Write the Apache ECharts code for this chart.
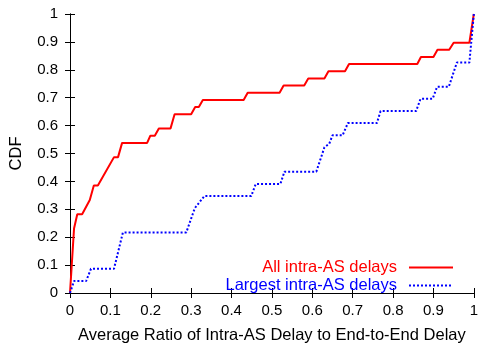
<!DOCTYPE html>
<html>
<head>
<meta charset="utf-8">
<script src="https://cdn.jsdelivr.net/npm/echarts@6/dist/echarts.min.js"></script>
<style>
  html, body { margin: 0; padding: 0; background: #fff; }
  #main { width: 481px; height: 349px; }
</style>
</head>
<body>
<div id="main"></div>
<script>
// CDF curves, [ratio, cdf] points
var allDelays = [
  [0, 0], [0.010, 0.231], [0.018, 0.282], [0.030, 0.282], [0.049, 0.333],
  [0.059, 0.385], [0.069, 0.385], [0.109, 0.487], [0.119, 0.487], [0.129, 0.538],
  [0.191, 0.538], [0.199, 0.564], [0.210, 0.564], [0.220, 0.590], [0.249, 0.590],
  [0.259, 0.641], [0.300, 0.641], [0.310, 0.667], [0.319, 0.667], [0.329, 0.692],
  [0.430, 0.692], [0.440, 0.718], [0.519, 0.718], [0.529, 0.744], [0.580, 0.744],
  [0.590, 0.769], [0.630, 0.769], [0.640, 0.795], [0.681, 0.795], [0.691, 0.821],
  [0.860, 0.821], [0.869, 0.846], [0.900, 0.846], [0.910, 0.872], [0.939, 0.872],
  [0.950, 0.897], [0.989, 0.897], [1.0, 1.0]
]
var largestDelays = [
  [0, 0], [0.010, 0.043], [0.040, 0.043], [0.052, 0.087], [0.109, 0.087],
  [0.131, 0.217], [0.288, 0.217], [0.309, 0.304], [0.333, 0.348], [0.449, 0.348],
  [0.460, 0.391], [0.521, 0.391], [0.531, 0.435], [0.610, 0.435], [0.630, 0.522],
  [0.642, 0.535], [0.650, 0.565], [0.675, 0.565], [0.688, 0.609], [0.760, 0.609],
  [0.769, 0.652], [0.857, 0.652], [0.868, 0.696], [0.898, 0.696], [0.909, 0.739],
  [0.938, 0.739], [0.958, 0.826], [0.989, 0.826], [1.0, 1.0]
]
var seriesNames = ['All intra-AS delays', 'Largest intra-AS delays']
var seriesColors = ['#ff0000', '#0000ff']

var font = 'Liberation Sans, Arial, Helvetica, sans-serif'
var chart = echarts.init(document.getElementById('main'))

function tickLabel(v) {
  return String(Number(v.toFixed(1)))
}

var axisLine = { show: true, lineStyle: { color: '#000', width: 1 } }
var axisTick = { show: true, inside: true, length: 5, lineStyle: { color: '#000' } }

var option = {
  animation: false,
  backgroundColor: '#fff',
  textStyle: { fontFamily: font },
  grid: { left: 70, right: 6, top: 14, bottom: 54 },
  legend: {
    orient: 'vertical',
    right: 22,
    top: 254,
    align: 'right',
    itemWidth: 44,
    itemHeight: 10,
    itemGap: 1,
    itemStyle: { opacity: 0 },
    data: [
      { name: seriesNames[0], textStyle: { color: seriesColors[0] } },
      { name: seriesNames[1], textStyle: { color: seriesColors[1] } }
    ],
    textStyle: { fontSize: 16.5, fontFamily: font, padding: [0, 7, 0, 0] }
  },
  xAxis: [{
    type: 'value',
    min: 0, max: 1, interval: 0.1,
    name: 'Average Ratio of Intra-AS Delay to End-to-End Delay',
    nameLocation: 'middle',
    nameGap: 34,
    nameTextStyle: { fontSize: 16.5, color: '#000', fontFamily: font },
    axisLine: axisLine,
    axisTick: axisTick,
    splitLine: { show: false },
    axisLabel: { fontSize: 15, color: '#000', margin: 10, formatter: tickLabel }
  }, {
    type: 'value', position: 'top',
    min: 0, max: 1, interval: 0.1,
    axisLine: axisLine,
    axisTick: axisTick,
    splitLine: { show: false },
    axisLabel: { show: false }
  }],
  yAxis: [{
    type: 'value',
    min: 0, max: 1, interval: 0.1,
    name: 'CDF',
    nameLocation: 'middle',
    nameGap: 45,
    nameTextStyle: { fontSize: 16.5, color: '#000', fontFamily: font },
    axisLine: axisLine,
    axisTick: axisTick,
    splitLine: { show: false },
    axisLabel: { fontSize: 15, color: '#000', margin: 12, formatter: tickLabel }
  }, {
    type: 'value', position: 'right',
    min: 0, max: 1, interval: 0.1,
    axisLine: axisLine,
    axisTick: axisTick,
    splitLine: { show: false },
    axisLabel: { show: false }
  }],
  series: [{
    name: seriesNames[0],
    type: 'line',
    data: allDelays,
    symbol: 'none',
    color: seriesColors[0],
    lineStyle: { color: seriesColors[0], width: 2 }
  }, {
    name: seriesNames[1],
    type: 'line',
    data: largestDelays,
    symbol: 'none',
    color: seriesColors[1],
    lineStyle: { color: seriesColors[1], width: 2, type: [2, 2] }
  }]
}
chart.setOption(option)
</script>
</body>
</html>
